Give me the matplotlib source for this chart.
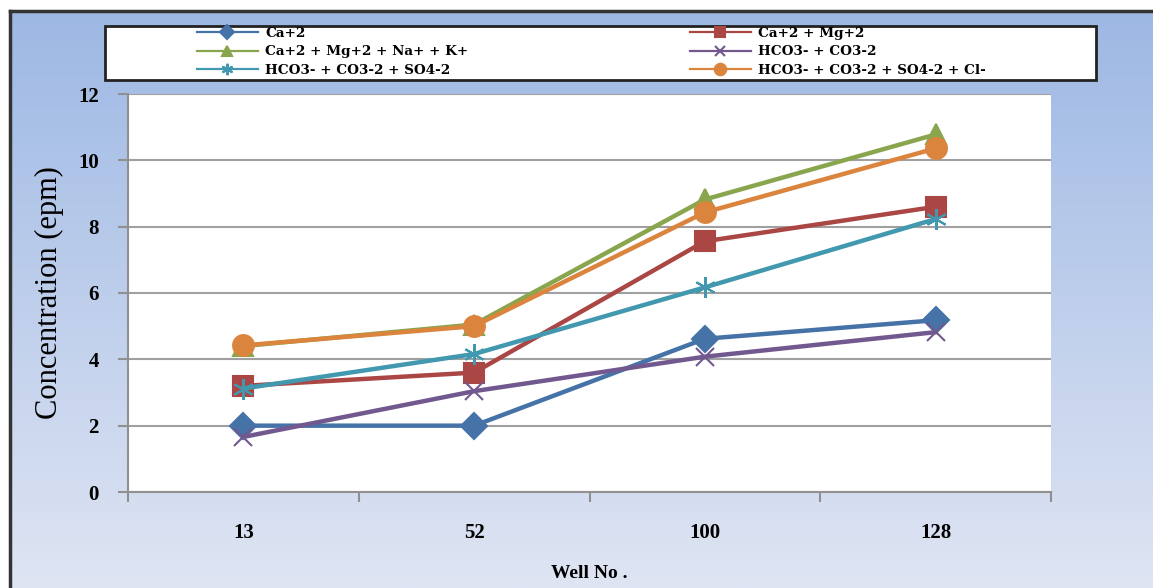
import numpy as np
import matplotlib.pyplot as plt
from matplotlib.patches import Rectangle

# data
wells = ['13', '52', '100', '128']
ca = [2.0, 2.0, 4.62, 5.18]
ca_mg = [3.2, 3.6, 7.56, 8.6]
ca_mg_na_k = [4.4, 5.05, 8.82, 10.78]
hco3_co3 = [1.66, 3.04, 4.08, 4.82]
hco3_co3_so4 = [3.12, 4.16, 6.17, 8.23]
hco3_co3_so4_cl = [4.42, 5.0, 8.43, 10.36]

series = [
    ('Ca+2', ca, '#4572a7', 'D', 13),
    ('Ca+2 + Mg+2', ca_mg, '#aa4643', 's', 14),
    ('Ca+2 + Mg+2 + Na+ + K+', ca_mg_na_k, '#89a54e', '^', 14),
    ('HCO3- + CO3-2', hco3_co3, '#71588f', 'x', 13),
    ('HCO3- + CO3-2 + SO4-2', hco3_co3_so4, '#4198af', (6, 2, 0), 15),
    ('HCO3- + CO3-2 + SO4-2 + Cl-', hco3_co3_so4_cl, '#db843d', 'o', 15),
]

plt.rcParams['font.family'] = ['Liberation Serif', 'DejaVu Serif']

W, H = 1153, 588
fig = plt.figure(figsize=(W / 100, H / 100), dpi=100)
fig.patch.set_facecolor('white')

# gradient background panel
bg = fig.add_axes([10 / W, 0, 1 - 10 / W, 1 - 11 / H])
bg.set_zorder(-10)
grad = np.linspace(0, 1, 256).reshape(-1, 1)
top = np.array([0x9d, 0xb8, 0xe4]) / 255
bot = np.array([0xdf, 0xe5, 0xf3]) / 255
img = top + (bot - top) * grad[:, :, None]
bg.imshow(img, aspect='auto', extent=[0, 1, 0, 1], origin='upper')
bg.set_xlim(0, 1)
bg.set_ylim(0, 1)
bg.axis('off')
bg.plot([0, 0], [0, 1], color='#333333', lw=2.5, clip_on=False)
bg.plot([0, 1], [1, 1], color='#333333', lw=2.5, clip_on=False)

ax = fig.add_axes([128 / W, 1 - 492 / H, (1051 - 128) / W, (492 - 94) / H])
ax.set_facecolor('white')
x = np.arange(len(wells))
handles = []
for label, vals, color, marker, ms in series:
    h, = ax.plot(x, vals, color=color, lw=3.2, marker=marker, markersize=ms,
                 markerfacecolor=color, markeredgecolor=color, markeredgewidth=1.5,
                 label=label)
    handles.append(h)

ax.set_xlim(-0.5, 3.5)
ax.set_ylim(0, 12)
ax.set_yticks(range(0, 13, 2))
ax.set_yticklabels([str(v) for v in range(0, 13, 2)], fontsize=15, fontweight='bold')
ax.yaxis.grid(True, color='#a0a0a0', lw=1.5)
ax.set_axisbelow(True)

ax.set_xticks(np.arange(-0.5, 4, 1))
ax.set_xticklabels([])
ax.set_xticks(x, minor=True)
ax.set_xticklabels(wells, minor=True, fontsize=15, fontweight='bold')
ax.tick_params(axis='x', which='major', length=7, color='#909090', width=1.5)
ax.tick_params(axis='x', which='minor', length=0, pad=22)
ax.tick_params(axis='y', length=7, color='#909090', width=1.5, pad=14)

for s in ['top', 'right']:
    ax.spines[s].set_visible(False)
for s in ['left', 'bottom']:
    ax.spines[s].set_color('#909090')
    ax.spines[s].set_linewidth(1.5)

ax.set_ylabel('Concentration (epm)', fontsize=22, labelpad=10)
ax.set_xlabel('Well No .', fontsize=14, fontweight='bold', labelpad=16)

# legend box drawn by hand, two frameless legends inside (row-wise order)
fig.patches.append(Rectangle((105 / W, 1 - 80 / H), (1096 - 105) / W, 54 / H,
                             transform=fig.transFigure, facecolor='white',
                             edgecolor='#222222', lw=2, zorder=5))
legprop = {'family': 'DejaVu Serif', 'weight': 'bold', 'size': 9.7}
for idx, xpos in [([0, 2, 4], 197), ([1, 3, 5], 690)]:
    leg = fig.legend([handles[i] for i in idx], [series[i][0] for i in idx],
                     loc='upper left', bbox_to_anchor=(xpos / W, 1 - 27 / H),
                     frameon=False, prop=legprop, handlelength=4.5,
                     handletextpad=0.55, borderaxespad=0, borderpad=0,
                     labelspacing=0.4, markerscale=0.55)
    leg.set_zorder(6)
    for line in leg.get_lines():
        line.set_linewidth(1.6)

fig.savefig('out.png', dpi=100)
